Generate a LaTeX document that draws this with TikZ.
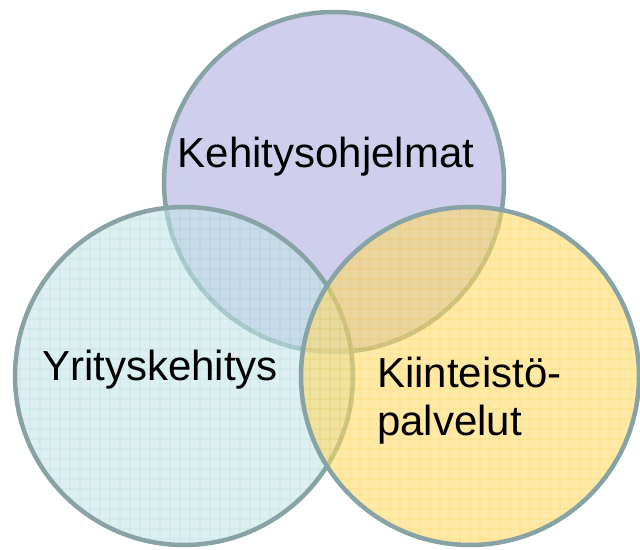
\documentclass[tikz,border=0pt]{standalone}
\usepackage{fontspec}
\setmainfont{Liberation Sans}
\definecolor{ringcol}{RGB}{135,163,165}
\definecolor{purplefill}{RGB}{207,207,237}
\definecolor{cyanfill}{RGB}{196,228,232}
\definecolor{cyangrid}{RGB}{155,210,212}
\definecolor{yellowfill}{RGB}{255,218,107}
\definecolor{yellowgrid}{RGB}{255,200,40}
\tikzset{
  ring/.style={draw=ringcol, line width=4.5pt},
  label/.style={font=\fontsize{42}{48}\selectfont, text=black, inner sep=0pt},
}
\begin{document}
\begin{tikzpicture}[x=1pt,y=1pt]
\useasboundingbox (0,0) rectangle (640,549);
\coordinate (cP) at (334,367);
\coordinate (cL) at (184,173);
\coordinate (cR) at (470,173);
% top circle
\fill[purplefill] (cP) circle[radius=170];
\draw[ring] (cP) circle[radius=170];
% left circle
\begin{scope}[transparency group, opacity=0.6]
  \fill[cyanfill] (cL) circle[radius=169];
  \begin{scope}
    \clip (cL) circle[radius=169];
    \draw[cyangrid, line width=0.8pt, step=10pt] (0,0) grid (360,360);
  \end{scope}
\end{scope}
\draw[ring] (cL) circle[radius=169];
% right circle
\begin{scope}[transparency group, opacity=0.6]
  \fill[yellowfill] (cR) circle[radius=169];
  \begin{scope}
    \clip (cR) circle[radius=169];
    \draw[yellowgrid, line width=0.8pt, step=10pt] (290,0) grid (650,360);
  \end{scope}
\end{scope}
\draw[ring] (cR) circle[radius=169];
% labels
\node[label, anchor=base] (tP) at (326,381) {Kehitysohjelmat};
\node[label, anchor=base] (tL) at (160,168) {Yrityskehitys};
\node[label, anchor=north west, align=left] (tR) at (377,192) {Kiinteistö-\\palvelut};
\end{tikzpicture}
\end{document}
